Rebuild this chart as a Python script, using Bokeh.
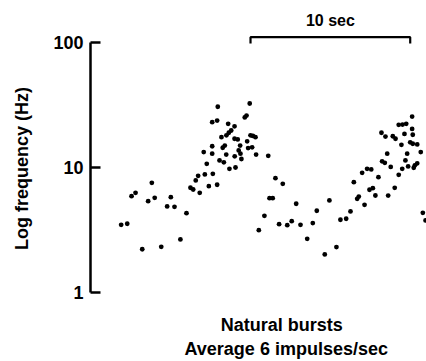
from bokeh.plotting import figure
from bokeh.models import Range1d, FixedTicker, Label, ColumnDataSource, Title
from bokeh.embed import file_html
from bokeh.resources import INLINE

# ---- data ----
time_s = [1.84, 2.22, 2.49, 2.74, 3.16, 3.53, 3.76, 3.94, 4.35, 4.72,
          4.95, 5.18, 5.55, 5.93, 6.18, 6.35, 6.51, 6.66, 6.76, 7.01,
          7.20, 7.08, 7.33, 7.54, 7.85, 7.89, 7.54, 7.54, 7.58, 7.85,
          8.00, 8.27, 8.12, 8.20, 8.33, 8.42, 8.43, 8.54, 8.58, 8.73,
          8.62, 8.94, 8.94, 8.95, 9.00, 9.14, 9.20, 9.29, 9.31, 9.37,
          9.58, 9.69, 9.73, 9.79, 10.04, 9.89, 9.94, 10.25, 10.29, 10.09,
          11.05, 11.50, 11.96, 11.13, 11.33, 10.81, 10.46, 11.73, 12.24, 12.52,
          12.80, 13.07, 13.49, 13.84, 14.09, 14.59, 14.88, 15.32, 15.57, 15.93,
          16.20, 16.41, 16.62, 16.72, 16.93, 17.08, 17.24, 17.50, 17.39, 17.60,
          17.76, 17.95, 18.14, 18.39, 18.18, 18.35, 18.50, 18.56, 18.72, 18.85,
          19.02, 18.97, 19.22, 19.46, 19.69, 19.22, 19.39, 19.44, 19.58, 19.64,
          19.75, 19.81, 19.94, 20.10, 20.06, 20.06, 20.10, 20.16, 20.23, 20.38,
          20.38, 20.60, 20.73, 20.90]

freq_hz = [3.47, 3.54, 5.89, 6.27, 2.21, 5.37, 7.54, 5.71, 2.31, 4.87,
           5.78, 4.84, 2.65, 4.30, 6.88, 6.66, 7.87, 8.58, 6.27, 13.3,
           10.7, 8.79, 7.08, 23.1, 23.8, 30.7, 14.8, 12.9, 8.90, 7.27,
           11.4, 11.0, 17.5, 14.4, 15.0, 12.7, 18.1, 22.4, 19.0, 19.8,
           9.76, 21.4, 17.0, 12.3, 10.0, 16.8, 13.7, 15.0, 12.9, 11.7,
           25.2, 26.1, 16.2, 14.3, 14.5, 32.6, 18.1, 17.5, 12.7, 17.9,
           12.4, 8.21, 7.40, 5.67, 5.67, 4.10, 3.14, 3.51, 3.45, 3.71,
           5.12, 3.47, 2.68, 3.58, 4.50, 2.01, 5.44, 2.30, 3.81, 3.88,
           4.44, 7.62, 5.61, 5.85, 9.07, 5.02, 9.76, 9.64, 6.63, 6.82,
           5.96, 8.36, 19.0, 17.7, 11.2, 10.9, 12.9, 5.96, 10.1, 17.8,
           17.0, 6.87, 22.0, 22.1, 22.4, 8.74, 15.2, 9.76, 18.6, 11.4,
           12.9, 10.2, 15.9, 15.5, 25.6, 20.4, 18.3, 9.94, 10.4, 10.8,
           15.3, 13.3, 4.33, 3.76]

y_ticks = [1, 10, 100]
y_tick_labels = {1: "1", 10: "10", 100: "100"}
y_label = "Log frequency (Hz)"
scale_bar_start_s = 9.94
scale_bar_seconds = 10
scale_bar_text = "10 sec"
caption_lines = ["Natural bursts", "Average 6 impulses/sec"]

FONT = "Liberation Sans"

p = figure(width=426, height=361, output_backend="svg", toolbar_location=None,
           y_axis_type="log", x_axis_location=None,
           x_range=Range1d(-0.08, 20.96), y_range=Range1d(0.4413, 218.3),
           min_border_left=90, min_border_right=0, min_border_top=0,
           min_border_bottom=25)
p.outline_line_color = None
p.grid.visible = False
p.background_fill_color = "white"
p.border_fill_color = "white"

ax = p.yaxis[0]
ax.bounds = (1, 100)
ax.ticker = FixedTicker(ticks=y_ticks, minor_ticks=[])
ax.major_label_overrides = y_tick_labels
ax.axis_line_width = 2.5
ax.axis_line_color = "black"
ax.major_tick_line_width = 2.5
ax.major_tick_line_color = "black"
ax.major_tick_in = 10
ax.major_tick_out = 0
ax.minor_tick_in = 0
ax.minor_tick_out = 0
ax.major_label_standoff = 7
ax.major_label_text_font = FONT
ax.major_label_text_font_style = "bold"
ax.major_label_text_font_size = "18px"
ax.major_label_text_color = "black"
ax.axis_label = y_label
ax.axis_label_text_font = FONT
ax.axis_label_text_font_style = "bold"
ax.axis_label_text_font_size = "18px"
ax.axis_label_text_color = "black"
ax.axis_label_standoff = 18

src = ColumnDataSource(dict(t=time_s, f=freq_hz))
p.scatter("t", "f", source=src, size=4.8, fill_color="black", line_color=None)

# scale bar (10 s bracket above the data)
bar_hz = 111.0
tick_hz = 98.7
x0 = scale_bar_start_s
x1 = scale_bar_start_s + scale_bar_seconds
p.line([x0, x0, x1, x1], [tick_hz, bar_hz, bar_hz, tick_hz],
       line_color="black", line_width=2.2)
p.add_layout(Label(x=(x0 + x1) / 2, y=151, text=scale_bar_text,
                   text_align="center", text_baseline="middle",
                   text_font=FONT, text_font_style="bold",
                   text_font_size="16px", text_color="black"))

p.add_layout(Label(x=11.9, y=0.541, text=caption_lines[0],
                   text_align="center", text_baseline="middle",
                   text_font=FONT, text_font_style="bold",
                   text_font_size="18px", text_color="black"))
p.add_layout(Title(text=caption_lines[1], align="left", offset=94,
                   standoff=0, text_font=FONT, text_font_style="bold",
                   text_font_size="18px", text_color="black"), "below")

open("out.html", "w").write(file_html(p, INLINE))
